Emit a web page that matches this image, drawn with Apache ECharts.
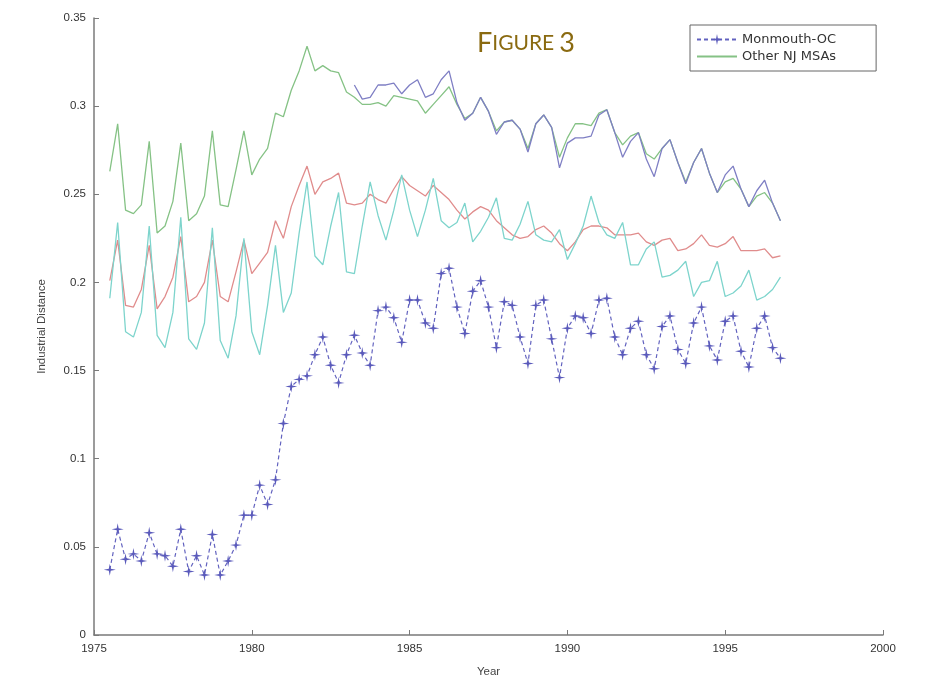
<!DOCTYPE html>
<html>
<head>
<meta charset="utf-8">
<script src="https://cdn.jsdelivr.net/npm/echarts@6/dist/echarts.min.js"></script>
<style>html,body{margin:0;padding:0;background:#fff}#c{width:932px;height:683px}</style>
</head>
<body>
<div id="c"></div>
<script>
// Quarterly observations, first quarter shown = 1975.5, step 0.25 year
const startYear = 1975.5;
const stepYear = 0.25;
const xTicks = [1975, 1980, 1985, 1990, 1995, 2000];
const yTicks = [0, 0.05, 0.1, 0.15, 0.2, 0.25, 0.3, 0.35];

const monmouthOC = [0.037,0.060,0.043,0.046,0.042,0.058,0.046,0.045,0.039,0.060,
0.036,0.045,0.034,0.057,0.034,0.042,0.051,0.068,0.068,0.085,
0.074,0.088,0.120,0.141,0.145,0.147,0.159,0.169,0.153,0.143,
0.159,0.170,0.160,0.153,0.184,0.186,0.180,0.166,0.190,0.190,
0.177,0.174,0.205,0.208,0.186,0.171,0.195,0.201,0.186,0.163,
0.189,0.187,0.169,0.154,0.187,0.190,0.168,0.146,0.174,0.181,
0.180,0.171,0.190,0.191,0.169,0.159,0.174,0.178,0.159,0.151,
0.175,0.181,0.162,0.154,0.177,0.186,0.164,0.156,0.178,0.181,
0.161,0.152,0.174,0.181,0.163,0.157];

const otherNJ = [0.263,0.290,0.241,0.239,0.244,0.280,0.228,0.232,0.246,0.279,
0.235,0.239,0.249,0.286,0.244,0.243,0.264,0.286,0.261,0.270,
0.276,0.296,0.294,0.309,0.320,0.334,0.320,0.323,0.320,0.319,
0.308,0.305,0.301,0.301,0.302,0.300,0.306,0.305,0.304,0.303,
0.296,0.301,0.306,0.311,0.301,0.293,0.296,0.305,0.297,0.286,
0.291,0.292,0.287,0.276,0.290,0.295,0.288,0.271,0.282,0.290,
0.290,0.289,0.296,0.298,0.285,0.278,0.283,0.285,0.273,0.270,
0.276,0.281,0.268,0.257,0.268,0.276,0.262,0.251,0.257,0.259,
0.253,0.243,0.249,0.251,0.245,0.235];

// solid purple line, begins at quarter index 31 (1983.25)
const purpleStart = 31;
const purpleSolid = [0.312,0.304,0.305,0.312,0.312,0.313,0.307,0.312,0.315,
0.305,0.307,0.315,0.320,0.302,0.292,0.296,0.305,0.297,0.284,
0.291,0.292,0.287,0.274,0.290,0.295,0.288,0.265,0.279,0.282,
0.282,0.283,0.295,0.298,0.285,0.271,0.280,0.285,0.270,0.260,
0.276,0.281,0.268,0.256,0.268,0.276,0.262,0.251,0.261,0.266,
0.253,0.243,0.252,0.258,0.245,0.235];

const redSeries = [0.201,0.224,0.187,0.186,0.196,0.221,0.185,0.192,0.203,0.226,
0.189,0.192,0.200,0.224,0.192,0.189,0.206,0.224,0.205,0.211,
0.217,0.235,0.225,0.243,0.255,0.266,0.250,0.257,0.259,0.262,
0.245,0.244,0.245,0.250,0.247,0.245,0.253,0.260,0.255,0.252,
0.249,0.255,0.251,0.247,0.241,0.236,0.240,0.243,0.241,0.235,
0.231,0.227,0.225,0.226,0.230,0.232,0.228,0.222,0.218,0.223,
0.230,0.232,0.232,0.231,0.227,0.227,0.227,0.228,0.223,0.221,
0.224,0.225,0.218,0.219,0.222,0.227,0.221,0.220,0.222,0.226,
0.218,0.218,0.218,0.219,0.214,0.215];

const cyanSeries = [0.191,0.234,0.172,0.169,0.183,0.232,0.170,0.163,0.183,0.237,
0.168,0.162,0.177,0.231,0.167,0.157,0.181,0.225,0.172,0.159,
0.187,0.221,0.183,0.194,0.228,0.257,0.215,0.210,0.232,0.251,
0.206,0.205,0.232,0.257,0.238,0.224,0.241,0.261,0.241,0.226,
0.241,0.259,0.235,0.231,0.234,0.245,0.223,0.229,0.237,0.248,
0.225,0.224,0.233,0.246,0.227,0.224,0.223,0.230,0.213,0.222,
0.232,0.249,0.234,0.227,0.225,0.234,0.210,0.210,0.219,0.223,
0.203,0.204,0.207,0.212,0.192,0.200,0.201,0.212,0.192,0.194,
0.198,0.207,0.190,0.192,0.196,0.203];

function pairs(arr, offset) {
  return arr.map((v, i) => [startYear + (i + offset) * stepYear, v]);
}

const chart = echarts.init(document.getElementById('c'), null, {renderer: 'canvas'});
const axisColor = '#7a7a7a';
const plusStar = 'path://M0,-10L1.6,-1.6L10,0L1.6,1.6L0,10L-1.6,1.6L-10,0L-1.6,-1.6Z';

chart.setOption({
  backgroundColor: '#ffffff',
  animation: false,
  title: {
    text: '{a|F}{b|IGURE} {a|3}',
    left: 472,
    top: 25,
    textStyle: {
      rich: {
        a: {fontFamily: 'Lato', fontSize: 27, color: '#8a6a10', fontWeight: 'normal'},
        b: {fontFamily: 'Lato', fontSize: 21, color: '#8a6a10', fontWeight: 'normal'}
      }
    }
  },
  legend: {
    data: [
      {name: 'Monmouth-OC'},
      {name: 'Other NJ MSAs', itemStyle: {opacity: 0}}
    ],
    orient: 'vertical',
    left: 690,
    top: 25,
    borderColor: '#666',
    borderWidth: 1,
    padding: [8, 40, 8, 6],
    itemGap: 4,
    itemWidth: 40,
    itemHeight: 14,
    textStyle: {fontFamily: 'DejaVu Sans', fontSize: 13, color: '#333'}
  },
  grid: {left: 94, right: 49, top: 18, bottom: 46},
  xAxis: {
    type: 'value',
    min: xTicks[0],
    max: xTicks[xTicks.length - 1],
    interval: 5,
    name: 'Year',
    nameLocation: 'middle',
    nameGap: 31,
    nameTextStyle: {fontFamily: 'Liberation Sans', fontSize: 11.5, color: '#444'},
    axisLine: {show: true, lineStyle: {color: axisColor, width: 1.5}},
    axisTick: {show: true, inside: true, length: 5, lineStyle: {color: axisColor}},
    axisLabel: {fontFamily: 'Liberation Sans', fontSize: 11.5, color: '#333', margin: 8,
      formatter: v => String(v)},
    splitLine: {show: false}
  },
  yAxis: {
    type: 'value',
    min: yTicks[0],
    max: yTicks[yTicks.length - 1],
    interval: 0.05,
    name: 'Industrial Distance',
    nameLocation: 'middle',
    nameGap: 46,
    nameTextStyle: {fontFamily: 'Liberation Sans', fontSize: 11.5, color: '#444'},
    axisLine: {show: true, lineStyle: {color: axisColor, width: 1.5}},
    axisTick: {show: true, inside: true, length: 5, lineStyle: {color: axisColor}},
    axisLabel: {fontFamily: 'Liberation Sans', fontSize: 11.5, color: '#333', margin: 8,
      formatter: v => String(+v.toFixed(2))},
    splitLine: {show: false}
  },
  series: [
    {
      name: 'Red', type: 'line', data: pairs(redSeries, 0), symbol: 'none',
      lineStyle: {color: '#e08c8c', width: 1.3}, itemStyle: {color: '#e08c8c'}, z: 2
    },
    {
      name: 'Cyan', type: 'line', data: pairs(cyanSeries, 0), symbol: 'none',
      lineStyle: {color: '#7dd4cc', width: 1.3}, itemStyle: {color: '#7dd4cc'}, z: 3
    },
    {
      name: 'Other NJ MSAs', type: 'line', data: pairs(otherNJ, 0), symbol: 'none',
      lineStyle: {color: '#85c285', width: 1.3}, itemStyle: {color: '#85c285'}, z: 4
    },
    {
      name: 'Monmouth solid', type: 'line', data: pairs(purpleSolid, purpleStart), symbol: 'none',
      lineStyle: {color: '#7f7fc4', width: 1.3}, itemStyle: {color: '#7f7fc4'}, z: 5
    },
    {
      name: 'Monmouth-OC', type: 'line', data: pairs(monmouthOC, 0),
      symbol: plusStar, symbolSize: 12, showSymbol: true,
      lineStyle: {color: '#6262bf', width: 1.2, type: [4, 3]},
      itemStyle: {color: '#5a5abb'}, z: 6
    }
  ]
});
</script>
</body>
</html>
